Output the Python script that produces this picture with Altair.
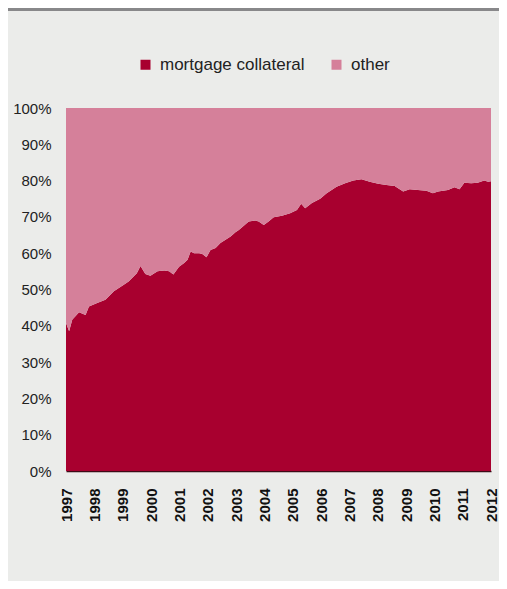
import altair as alt
import pandas as pd

# Decimal year positions and mortgage-collateral share (%)
years = [1997.00, 1997.11, 1997.22, 1997.46, 1997.69, 1997.81, 1998.10, 1998.39,
         1998.69, 1999.04, 1999.21, 1999.50, 1999.63, 1999.80, 1999.98, 2000.23,
         2000.47, 2000.64, 2000.79, 2000.99, 2001.17, 2001.29, 2001.40, 2001.52,
         2001.70, 2001.81, 2001.96, 2002.10, 2002.28, 2002.45, 2002.63, 2002.81,
         2002.98, 2003.10, 2003.45, 2003.68, 2003.80, 2003.98, 2004.15, 2004.33,
         2004.62, 2004.91, 2005.15, 2005.30, 2005.44, 2005.68, 2005.97, 2006.20,
         2006.55, 2006.85, 2007.14, 2007.43, 2007.72, 2008.02, 2008.31, 2008.60,
         2008.90, 2009.13, 2009.42, 2009.72, 2009.95, 2010.13, 2010.48, 2010.71,
         2010.89, 2011.06, 2011.30, 2011.53, 2011.76, 2011.90, 2012.00]
mortgage = [40.8, 38.5, 41.7, 43.7, 43.0, 45.3, 46.3, 47.2,
            49.5, 51.3, 52.2, 54.5, 56.5, 54.3, 53.8, 55.0,
            55.2, 55.0, 54.1, 56.3, 57.3, 58.2, 60.5, 60.0,
            60.0, 59.8, 58.9, 60.9, 61.4, 62.8, 63.7, 64.6,
            65.8, 66.4, 68.7, 69.0, 68.7, 67.8, 68.7, 69.9,
            70.3, 71.0, 71.9, 73.6, 72.4, 73.8, 75.0, 76.5,
            78.3, 79.3, 80.0, 80.4, 79.7, 79.1, 78.8, 78.5,
            77.0, 77.6, 77.4, 77.2, 76.5, 77.0, 77.4, 78.2,
            77.6, 79.4, 79.3, 79.4, 80.0, 79.7, 79.8]
series = ["mortgage collateral", "other"]
colors = ["#a8002f", "#d5809a"]
tick_years = list(range(1997, 2013))
tick_pct = list(range(0, 101, 10))

rows = []
for yr, m in zip(years, mortgage):
    rows.append({"year": yr, "series": series[0], "lo": 0.0, "hi": m})
    rows.append({"year": yr, "series": series[1], "lo": m, "hi": 100.0})
df = pd.DataFrame(rows)

FONT = "Liberation Sans"

areas = alt.Chart(df).mark_area(interpolate="linear").encode(
    x=alt.X("year:Q",
            scale=alt.Scale(domain=[1997, 2012], nice=False, zero=False),
            axis=alt.Axis(values=tick_years, format="d", labelAngle=270,
                          labelFontWeight="bold", labelFontSize=15, labelFont=FONT,
                          labelColor="#111111", labelPadding=17,
                          ticks=False,
                          grid=False, domain=True, domainColor="#3d0b17",
                          domainWidth=1.5, title=None, labelOverlap=False)),
    y=alt.Y("hi:Q",
            scale=alt.Scale(domain=[0, 100], nice=False),
            axis=alt.Axis(values=tick_pct, labelExpr="datum.value + '%'",
                          labelFontSize=15, labelFont=FONT, labelColor="#222222",
                          labelPadding=15, ticks=False, grid=False, domain=False,
                          title=None)),
    y2="lo:Q",
    color=alt.Color("series:N",
                    scale=alt.Scale(domain=series, range=colors),
                    legend=alt.Legend(title=None, orient="none", legendX=71,
                                      legendY=-52, direction="horizontal",
                                      symbolType="square", symbolSize=100,
                                      symbolStrokeWidth=0, symbolOpacity=1,
                                      labelFontSize=17, labelFont=FONT,
                                      labelColor="#222222", labelOffset=6,
                                      columnPadding=23)),
)

bar = alt.Chart(pd.DataFrame({"a": [0]})).mark_rect(color="#88888a").encode(
    x=alt.value(-58), x2=alt.value(433), y=alt.value(-100), y2=alt.value(-97)
)

chart = alt.layer(bar, areas).properties(
    width=425, height=363,
    autosize=alt.AutoSizeParams(type="none"),
    padding={"left": 58, "top": 100, "right": 8, "bottom": 110},
    background="#ebecea",
).configure_view(stroke=None)

chart.save("out.html", embed_options={"renderer": "svg", "actions": False})
